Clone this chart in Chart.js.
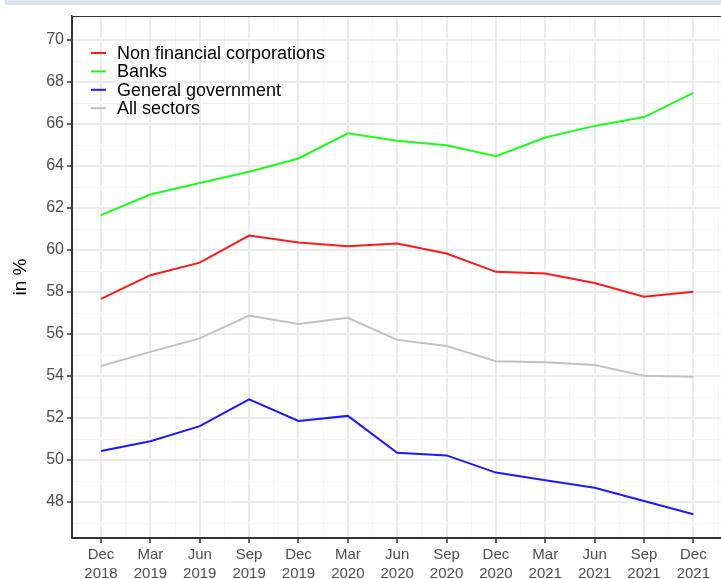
<!DOCTYPE html>
<html>
<head>
<meta charset="utf-8">
<script src="https://cdn.jsdelivr.net/npm/chart.js@4.4.1/dist/chart.umd.min.js"></script>
<style>
  html, body { margin: 0; padding: 0; background: #fff; }
  #wrap { position: relative; width: 721px; height: 579px; }
  #band { position: absolute; left: 5px; top: 0; width: 716px; height: 5px; background: #dce4ef; }
</style>
</head>
<body>
<div id="wrap">
  <canvas id="ShareChart" width="721" height="579"></canvas>
  <div id="band"></div>
</div>
<script>
// quarters along the x axis
const Quarters = [
  ['Dec', '2018'], ['Mar', '2019'], ['Jun', '2019'], ['Sep', '2019'],
  ['Dec', '2019'], ['Mar', '2020'], ['Jun', '2020'], ['Sep', '2020'],
  ['Dec', '2020'], ['Mar', '2021'], ['Jun', '2021'], ['Sep', '2021'],
  ['Dec', '2021']
];

// series, in %
const NonFinancial = [57.67, 58.80, 59.40, 60.69, 60.36, 60.18, 60.31, 59.83, 58.96, 58.88, 58.43, 57.77, 58.01];
const Banks        = [61.66, 62.64, 63.19, 63.73, 64.36, 65.56, 65.20, 64.99, 64.47, 65.36, 65.91, 66.33, 67.48];
const GeneralGov   = [50.43, 50.89, 51.61, 52.89, 51.86, 52.10, 50.34, 50.22, 49.40, 49.04, 48.68, 48.05, 47.42];
const AllSectors   = [54.48, 55.15, 55.79, 56.88, 56.48, 56.77, 55.72, 55.43, 54.70, 54.66, 54.52, 54.01, 53.97];

// tick labels
const YTicks = [48, 50, 52, 54, 56, 58, 60, 62, 64, 66, 68, 70];

const FONT = '"Liberation Sans", Arial, sans-serif';

function points(arr) {
  return arr.map((v, i) => ({ x: i, y: v }));
}

function line(label, data, color) {
  return {
    label: label,
    data: points(data),
    borderColor: color,
    backgroundColor: color,
    borderWidth: 2,
    pointRadius: 0,
    tension: 0
  };
}

// legend drawn inside the panel, top left
const panelLegend = {
  id: 'panelLegend',
  afterDraw(chart) {
    const ctx = chart.ctx;
    const a = chart.chartArea;
    ctx.save();
    // panel border
    ctx.strokeStyle = '#333333';
    ctx.lineWidth = 1;
    ctx.strokeRect(a.left + 0.5, a.top + 0.5, a.right - a.left, a.bottom - a.top);
    ctx.font = '18px ' + FONT;
    ctx.textBaseline = 'middle';
    chart.data.datasets.forEach((ds, i) => {
      const y = 53 + i * 18.4;
      ctx.strokeStyle = ds.borderColor;
      ctx.lineWidth = 2;
      ctx.beginPath();
      ctx.moveTo(91, y);
      ctx.lineTo(106, y);
      ctx.stroke();
      ctx.fillStyle = '#000000';
      ctx.fillText(ds.label, 117, y + 1);
    });
    ctx.restore();
  }
};

const ShareConfig = {
  type: 'line',
  data: {
    datasets: [
      line('Non financial corporations', NonFinancial, '#ff1a1a'),
      line('Banks', Banks, '#1aff1a'),
      line('General government', GeneralGov, '#1a1aff'),
      line('All sectors', AllSectors, '#c2c2c2')
    ]
  },
  options: {
    responsive: false,
    animation: false,
    layout: { padding: { top: 16, right: 0, left: 0, bottom: 0 } },
    plugins: {
      legend: { display: false },
      tooltip: { enabled: false }
    },
    scales: {
      x: {
        type: 'linear',
        min: -0.588,
        max: 12.56,
        afterBuildTicks(scale) {
          const t = [];
          for (let v = -0.5; v <= 12.5; v += 0.5) t.push({ value: v });
          scale.ticks = t;
        },
        afterFit(scale) { scale.height = 41; },
        grid: {
          color: c => Number.isInteger(c.tick.value) ? '#ebebeb' : '#f5f5f5',
          lineWidth: c => Number.isInteger(c.tick.value) ? 2 : 1,
          tickColor: c => Number.isInteger(c.tick.value) ? '#333333' : 'rgba(0,0,0,0)',
          tickWidth: 1.5,
          tickLength: 5
        },
        border: { display: true, color: '#333333', width: 1.5 },
        ticks: {
          autoSkip: false,
          maxRotation: 0,
          padding: 2,
          color: '#4d4d4d',
          font: { family: FONT, size: 15, lineHeight: 1.3 },
          callback: v => Number.isInteger(v) ? Quarters[v] : ''
        }
      },
      y: {
        type: 'linear',
        min: 46.286,
        max: 71.143,
        afterBuildTicks(scale) {
          const t = [];
          for (let v = 47; v <= 71; v += 1) t.push({ value: v });
          scale.ticks = t;
        },
        afterFit(scale) { scale.width = 72; },
        grid: {
          color: c => YTicks.includes(c.tick.value) ? '#ebebeb' : '#f5f5f5',
          lineWidth: c => YTicks.includes(c.tick.value) ? 2 : 1,
          tickColor: c => YTicks.includes(c.tick.value) ? '#333333' : 'rgba(0,0,0,0)',
          tickWidth: 1.5,
          tickLength: 5
        },
        border: { display: true, color: '#333333', width: 1.5 },
        title: {
          display: true,
          text: 'in %',
          color: '#000000',
          font: { family: FONT, size: 19 },
          padding: { top: 9, bottom: 0 }
        },
        ticks: {
          autoSkip: false,
          padding: 3,
          color: '#4d4d4d',
          font: { family: FONT, size: 16 },
          callback: v => YTicks.includes(v) ? String(v) : ''
        }
      }
    }
  },
  plugins: [panelLegend]
};

const ShareChart = new Chart(document.getElementById('ShareChart'), ShareConfig);
</script>
</body>
</html>
